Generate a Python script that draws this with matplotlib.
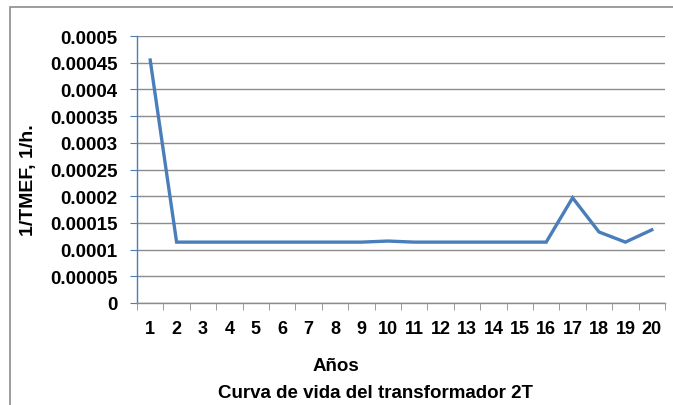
import matplotlib
matplotlib.use("Agg")
import matplotlib.pyplot as plt
from matplotlib.patches import Rectangle
from matplotlib.ticker import FixedLocator

years = list(range(1, 21))
rate = [0.000455, 0.000114, 0.000114, 0.000114, 0.000114, 0.000114, 0.000114,
        0.000114, 0.000114, 0.000116, 0.000114, 0.000114, 0.000114, 0.000114,
        0.000114, 0.000114, 0.000197, 0.000133, 0.000114, 0.000137]
yticks = [0, 0.00005, 0.0001, 0.00015, 0.0002, 0.00025, 0.0003, 0.00035, 0.0004, 0.00045, 0.0005]
ytick_labels = ["0", "0.00005", "0.0001", "0.00015", "0.0002", "0.00025", "0.0003",
                "0.00035", "0.0004", "0.00045", "0.0005"]

W, H = 673, 406
plt.rcParams["font.family"] = ["Liberation Sans", "DejaVu Sans"]
fig = plt.figure(figsize=(W / 100, H / 100), dpi=100)
fig.patch.set_facecolor("white")

# outer chart border (only left/top visible in the reference)
fig.patches.append(Rectangle((10 / W, -0.1), 1.2, 1 - 8 / H + 0.1, transform=fig.transFigure,
                             fill=False, edgecolor="#8c8c8c", linewidth=1.2))

ax = fig.add_axes([137 / W, 1 - 304 / H, (665 - 137) / W, (304 - 37) / H])
ax.plot(years, rate, color="#4a7ebb", linewidth=2.4, solid_joinstyle="miter")

ax.set_xlim(0.5, 20.5)
ax.set_ylim(0, 0.0005)
ax.set_yticks(yticks)
ax.set_yticklabels(ytick_labels, fontsize=13.5, fontweight="bold")
ax.set_xticks(years)
ax.set_xticklabels([str(y) for y in years], fontsize=13, fontweight="bold")
ax.xaxis.set_minor_locator(FixedLocator([y + 0.5 for y in range(0, 21)]))

ax.tick_params(axis="y", which="major", length=5, color="#4a7ebb", pad=9, direction="out")
ax.tick_params(axis="x", which="major", length=0, pad=12)
ax.tick_params(axis="x", which="minor", length=5, color="#8c8c8c", direction="out")

ax.grid(axis="y", color="#8c8c8c", linewidth=1)
ax.set_axisbelow(True)
for s in ("top", "right"):
    ax.spines[s].set_visible(False)
ax.spines["left"].set_color("#4a7ebb")
ax.spines["left"].set_linewidth(1)
ax.spines["bottom"].set_color("#8c8c8c")
ax.spines["bottom"].set_linewidth(1)

fig.text(29 / W, 1 - 180 / H, "1/TMEF, 1/h.", rotation=90, ha="center", va="center",
         fontsize=14, fontweight="bold")
fig.text(336 / W, 1 - 367 / H, "Años", ha="center", va="center", fontsize=13.5, fontweight="bold")
fig.text(376 / W, 1 - 394 / H, "Curva de vida del transformador 2T", ha="center", va="center",
         fontsize=13.5, fontweight="bold")

fig.savefig("out.png", dpi=100)
